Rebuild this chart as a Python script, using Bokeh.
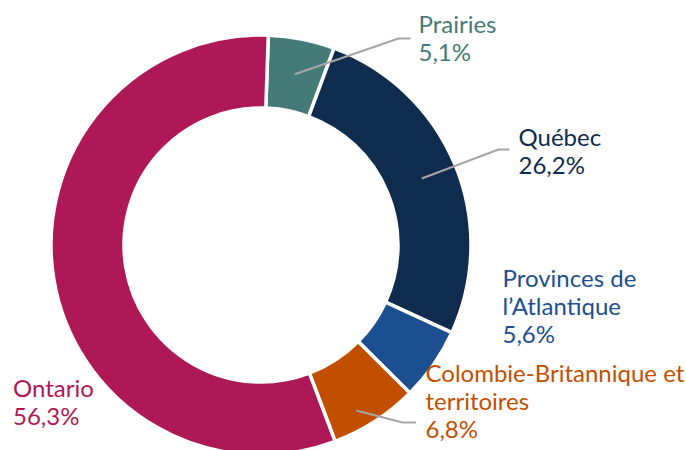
import math
from bokeh.plotting import figure
from bokeh.models import Range1d, ColumnDataSource
from bokeh.core.properties import value
from bokeh.embed import file_html
from bokeh.resources import INLINE

# ---- data ----
regions = ["Prairies", "Québec", "Provinces de l’Atlantique",
           "Colombie-Britannique et territoires", "Ontario"]
label_lines = [["Prairies"], ["Québec"], ["Provinces de", "l’Atlantique"],
               ["Colombie-Britannique et", "territoires"], ["Ontario"]]
shares = [5.1, 26.2, 5.6, 6.8, 56.3]
colors = ["#447A78", "#0F2B4E", "#1C4F8F", "#C24F00", "#AE1856"]

# ---- layout (image pixel coordinates) ----
W, H = 686, 450
CX, CY = 260.5, 244.5
R_IN, R_OUT = 137.0, 210.0
START_OFFSET = 2.0  # degrees clockwise from 12 o'clock
FONT = "Lato"
FS = 24
LINE_H = 28
BASE_SHIFT = -10
label_pos = [(418, 33), (518, 145.5), (502, 287), (425, 382), (12.5, 396.5)]
# leader lines: (angle tweak deg, radius, elbow x, elbow y, end x) or None
leaders = [(0, 174, 398, 38, 410), (0, 174, 498, 149, 509), None,
           (3, 191, 402, 422, 415.5), None]

def Y(v):
    return -v

p = figure(width=W, height=H, output_backend="svg",
           toolbar_location=None, x_range=Range1d(0, W),
           y_range=Range1d(Y(H), Y(0)), min_border=0)
p.axis.visible = False
p.grid.visible = False
p.outline_line_color = None
p.background_fill_color = "white"
p.border_fill_color = "white"

total = sum(shares)
cum = START_OFFSET
starts, ends, mids = [], [], []
for s in shares:
    a0 = cum
    a1 = cum + s / total * 360.0
    starts.append(math.radians(90 - a0))
    ends.append(math.radians(90 - a1))
    mids.append((a0 + a1) / 2)
    cum = a1

src = ColumnDataSource(dict(start=starts, end=ends, color=colors, region=regions))
p.annular_wedge(x=CX, y=Y(CY), inner_radius=R_IN, outer_radius=R_OUT,
                start_angle="start", end_angle="end", direction="clock",
                fill_color="color", line_color="white", line_width=3.5, source=src)

# leader lines
xs, ys = [], []
for mid, ld in zip(mids, leaders):
    if ld is None:
        continue
    tweak, r, ex, ey, endx = ld
    a = math.radians(mid + tweak)
    sx = CX + r * math.sin(a)
    sy = CY - r * math.cos(a)
    xs.append([sx, ex, endx])
    ys.append([Y(sy), Y(ey), Y(ey)])
p.multi_line(xs=xs, ys=ys, line_color="#A6A6A6", line_width=2)

# labels
tx, ty, tt, tc = [], [], [], []
for lines, s, (lx, ly), c in zip(label_lines, shares, label_pos, colors):
    allines = lines + [f"{s:.1f}%".replace(".", ",")]
    for i, ln in enumerate(allines):
        tx.append(lx)
        ty.append(Y(ly + BASE_SHIFT + i * LINE_H))
        tt.append(ln)
        tc.append(c)
p.text(x=tx, y=ty, text=tt, text_color=tc, text_font=value(FONT),
       text_font_size=f"{FS}px", text_align="left", text_baseline="alphabetic")

open("out.html", "w").write(file_html(p, INLINE))
